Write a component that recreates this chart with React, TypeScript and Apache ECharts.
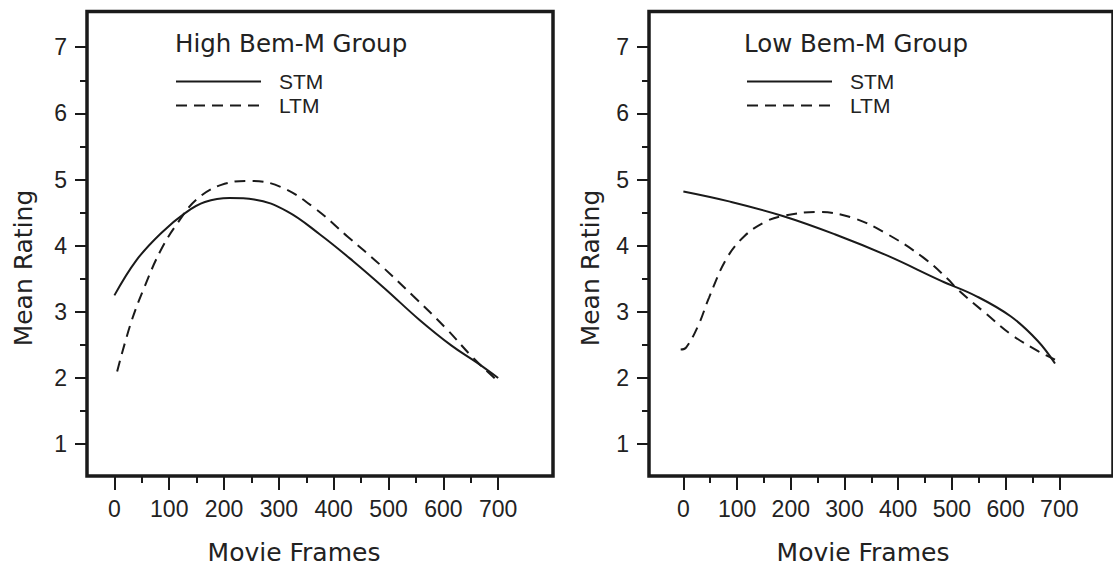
import React, { useEffect, useRef } from 'react';
import * as echarts from 'echarts';

// Tick values
const xMajor = [0, 100, 200, 300, 400, 500, 600, 700];
const xMinor = [50, 150, 250, 350, 450, 550, 650];
const yMajor = [1, 2, 3, 4, 5, 6, 7];
const yMinor = [1.5, 2.5, 3.5, 4.5, 5.5, 6.5];

// Series (movie frame, mean rating)
const highSTM = [
  [0, 3.25], [40, 3.78], [85, 4.19], [130, 4.5], [165, 4.66], [210, 4.72], [255, 4.7],
  [315, 4.52], [375, 4.17], [435, 3.77], [495, 3.34], [555, 2.89], [615, 2.49], [660, 2.24], [700, 2.0],
];
const highLTM = [
  [5, 2.1], [30, 2.83], [55, 3.38], [85, 3.94], [115, 4.34], [150, 4.7], [195, 4.92], [248, 4.98],
  [303, 4.89], [365, 4.57], [425, 4.14], [485, 3.71], [545, 3.24], [605, 2.75], [655, 2.3], [700, 1.95],
];
const lowSTM = [
  [0, 4.82], [85, 4.67], [185, 4.45], [283, 4.17], [380, 3.85], [480, 3.47], [545, 3.24],
  [610, 2.93], [660, 2.56], [692, 2.22],
];
const lowLTM = [
  [-5, 2.43], [5, 2.46], [28, 2.8], [48, 3.22], [80, 3.8], [113, 4.14], [152, 4.36], [185, 4.45],
  [250, 4.51], [316, 4.42], [381, 4.17], [447, 3.82], [492, 3.5], [512, 3.33], [564, 2.97],
  [610, 2.66], [662, 2.4], [692, 2.28],
];

const panelTitles = ['High Bem-M Group', 'Low Bem-M Group'];
const legendNames = ['STM', 'LTM'];

const INK = '#1a1a1a';
const TXT = '#222';
const LABEL_FONT = "'Liberation Sans', Arial, sans-serif";
const TITLE_FONT = "'DejaVu Sans', sans-serif";

export default function App() {
  const ref = useRef<HTMLDivElement>(null);

  useEffect(() => {
    if (!ref.current) return;
    const chart = echarts.init(ref.current, undefined, { renderer: 'svg' });

    const grids = [
      { left: 87, top: 11.5, width: 466, height: 464.5, xmin: -50 },
      { left: 649, top: 11.5, width: 472, height: 464.5, xmin: -64 },
    ];

    const xAxes: any[] = [];
    const yAxes: any[] = [];
    grids.forEach((g, i) => {
      xAxes.push({
        gridIndex: i, type: 'value', min: g.xmin, max: 800, position: 'bottom',
        axisLine: { show: false, onZero: false }, splitLine: { show: false },
        axisTick: { show: true, customValues: xMajor, length: 14, lineStyle: { color: INK, width: 2 } },
        axisLabel: { show: true, customValues: xMajor, margin: 21, fontSize: 23, color: TXT, fontFamily: LABEL_FONT },
      });
      xAxes.push({
        gridIndex: i, type: 'value', min: g.xmin, max: 800, position: 'bottom',
        axisLine: { show: false, onZero: false }, splitLine: { show: false },
        axisTick: { show: true, customValues: xMinor, length: 7, lineStyle: { color: INK, width: 2 } },
        axisLabel: { show: false },
      });
      yAxes.push({
        gridIndex: i, type: 'value', min: 0.52, max: 7.54, position: 'left',
        axisLine: { show: false, onZero: false }, splitLine: { show: false },
        axisTick: { show: true, customValues: yMajor, length: 12, lineStyle: { color: INK, width: 2 } },
        axisLabel: { show: true, customValues: yMajor, margin: 20, fontSize: 23, color: TXT, fontFamily: LABEL_FONT },
      });
      yAxes.push({
        gridIndex: i, type: 'value', min: 0.52, max: 7.54, position: 'left',
        axisLine: { show: false, onZero: false }, splitLine: { show: false },
        axisTick: { show: true, customValues: yMinor, length: 7, lineStyle: { color: INK, width: 2 } },
        axisLabel: { show: false },
      });
    });

    const mk = (name: string, data: number[][], panel: number, dashed: boolean) => ({
      type: 'line', name, data, xAxisIndex: panel * 2, yAxisIndex: panel * 2,
      symbol: 'none', smooth: 0.4,
      lineStyle: { color: INK, width: 2, type: dashed ? [11, 7] : 'solid' },
      itemStyle: { color: INK },
    });

    const legendBase = {
      orient: 'vertical', top: 71, itemWidth: 85, itemHeight: 16, itemGap: 3,
      data: legendNames, selectedMode: false, padding: 0,
      itemStyle: { opacity: 0 },
      textStyle: {
        fontSize: 21, lineHeight: 16, color: TXT,
        fontFamily: "'Liberation Sans Narrow', 'Liberation Sans', sans-serif", padding: [0, 0, 0, 13],
      },
    };

    const titleStyle = { fontSize: 24.5, fontWeight: 'normal', color: TXT, fontFamily: TITLE_FONT };
    const axisNameStyle = (text: string) => ({
      text, fontSize: 25, fontFamily: TITLE_FONT, fill: TXT, align: 'center', verticalAlign: 'middle',
    });

    chart.setOption({
      animation: false,
      backgroundColor: '#ffffff',
      title: [
        { text: panelTitles[0], left: 175, top: 31, padding: 0, textStyle: titleStyle },
        { text: panelTitles[1], left: 744, top: 31, padding: 0, textStyle: titleStyle },
      ],
      legend: [
        { ...legendBase, left: 175 },
        { ...legendBase, left: 746 },
      ],
      grid: grids.map((g) => ({
        left: g.left, top: g.top, width: g.width, height: g.height,
        show: true, borderColor: INK, borderWidth: 3.5, backgroundColor: 'transparent',
      })),
      xAxis: xAxes,
      yAxis: yAxes,
      series: [
        mk('STM', highSTM, 0, false),
        mk('LTM', highLTM, 0, true),
        mk('STM', lowSTM, 1, false),
        mk('LTM', lowLTM, 1, true),
      ],
      graphic: [
        { type: 'text', x: 294, y: 552, style: axisNameStyle('Movie Frames') },
        { type: 'text', x: 863, y: 552, style: axisNameStyle('Movie Frames') },
        { type: 'text', x: 23, y: 268, rotation: Math.PI / 2, style: axisNameStyle('Mean Rating') },
        { type: 'text', x: 590, y: 268, rotation: Math.PI / 2, style: axisNameStyle('Mean Rating') },
      ],
    });

    return () => chart.dispose();
  }, []);

  return (
    <div
      ref={ref}
      style={{ position: 'absolute', left: 0, top: 0, width: 1113, height: 567, background: '#fff' }}
    />
  );
}
